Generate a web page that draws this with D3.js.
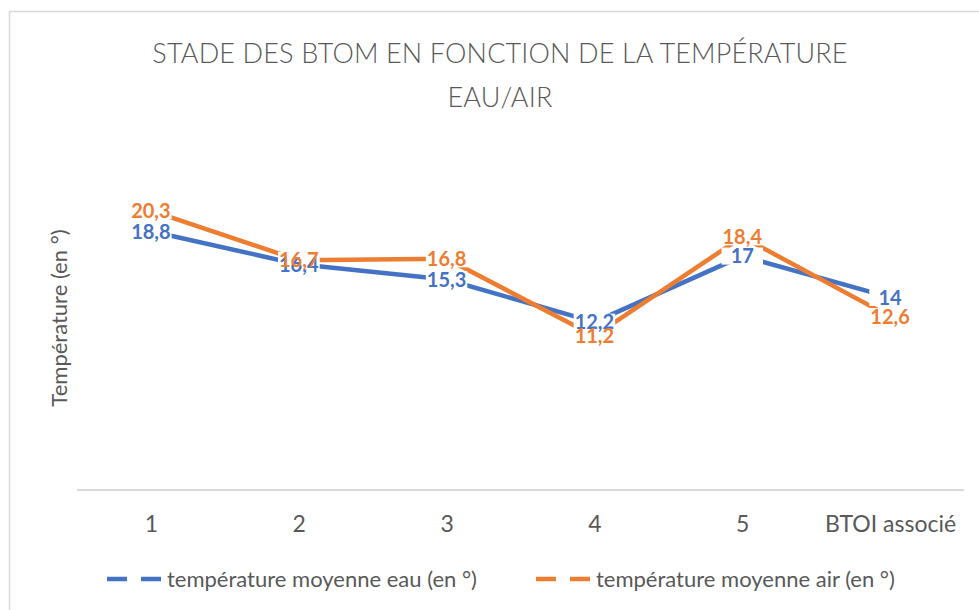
<!DOCTYPE html>
<html>
<head>
<meta charset="utf-8">
<script src="https://cdn.jsdelivr.net/npm/d3@7"></script>
<style>
  body { margin: 0; background: #fff; }
  svg { display: block; font-family: Lato, "Open Sans", sans-serif; }
</style>
</head>
<body>
<div id="app"></div>
<script>
"use strict";

// categories (x axis)
const categories = ["1", "2", "3", "4", "5", "BTOI associé"];
// series values
const eauValues = [18.8, 16.4, 15.3, 12.2, 17, 14];
const airValues = [20.3, 16.7, 16.8, 11.2, 18.4, 12.6];
const seriesNames = ["température moyenne eau (en °)", "température moyenne air (en °)"];
const seriesColors = ["#4472C4", "#ED7D31"];
const yDomain = [0, 25];

const titleLines = ["STADE DES BTOM EN FONCTION DE LA TEMPÉRATURE", "EAU/AIR"];
const yTitle = "Température (en °)";

const width = 979;
const height = 610;
const plot = { left: 77, right: 964, top: 146, bottom: 490 };
const legendX = [107, 536];

const fmt = v => String(v).replace(".", ",");

const svg = d3.select("#app")
  .append("svg")
  .attr("width", width)
  .attr("height", height);

// chart area border (runs off the page on right and bottom)
svg.append("rect")
  .attr("x", 9.5).attr("y", 11.5)
  .attr("width", 1000).attr("height", 700)
  .attr("fill", "#fff")
  .attr("stroke", "#d9d9d9")
  .attr("stroke-width", 1.5);

const x = d3.scalePoint()
  .domain(categories)
  .range([plot.left, plot.right])
  .padding(0.5);

const y = d3.scaleLinear()
  .domain(yDomain)
  .range([plot.bottom, plot.top]);

// title
titleLines.forEach((t, i) => {
  svg.append("text")
    .attr("x", 500)
    .attr("y", 63 + i * 44)
    .attr("text-anchor", "middle")
    .attr("fill", "#595959")
    .style("font-size", "27px")
    .style("font-weight", 300)
    .style("letter-spacing", "0.15px")
    .text(t);
});

// y axis title
svg.append("text")
  .attr("transform", "translate(67,318) rotate(-90)")
  .attr("text-anchor", "middle")
  .attr("fill", "#595959")
  .style("font-size", "22px")
  .text(yTitle);

// x axis
const xAxis = svg.append("g")
  .attr("transform", "translate(0," + plot.bottom + ")")
  .call(d3.axisBottom(x).tickSize(0).tickPadding(0));
xAxis.select(".domain")
  .attr("d", "M" + plot.left + ",0H" + plot.right)
  .attr("stroke", "#d9d9d9")
  .attr("stroke-width", 2);
xAxis.selectAll("text")
  .attr("y", 42)
  .attr("dy", null)
  .attr("fill", "#595959")
  .style("font-size", "23px")
  .style("font-family", "Lato, sans-serif");

// lines
const series = [eauValues, airValues];
const line = d3.line()
  .x((d, i) => x(categories[i]))
  .y(d => y(d));

series.forEach((vals, s) => {
  svg.append("path")
    .datum(vals)
    .attr("fill", "none")
    .attr("stroke", seriesColors[s])
    .attr("stroke-width", 4.5)
    .attr("stroke-linejoin", "round")
    .attr("d", line);
});

// data labels: white boxes first (cut the lines), then all texts on top
const boxLayer = svg.append("g");
const textLayer = svg.append("g");
series.forEach((vals, s) => {
  const texts = textLayer.append("g")
    .selectAll("text")
    .data(vals)
    .join("text")
    .attr("x", (d, i) => x(categories[i]))
    .attr("y", d => y(d))
    .attr("dy", "0.36em")
    .attr("text-anchor", "middle")
    .attr("fill", seriesColors[s])
    .style("font-size", "20px")
    .style("font-weight", 700)
    .text(d => fmt(d));
  // box width follows the widest label of the series
  let maxW = 0;
  texts.each(function () { maxW = Math.max(maxW, this.getComputedTextLength()); });
  const bw = maxW + 2;
  const bh = 17;
  boxLayer.append("g")
    .selectAll("rect")
    .data(vals)
    .join("rect")
    .attr("x", (d, i) => x(categories[i]) - bw / 2)
    .attr("y", d => y(d) - bh / 2)
    .attr("width", bw)
    .attr("height", bh)
    .attr("fill", "#fff");
});

// legend
seriesNames.forEach((name, s) => {
  const item = svg.append("g")
    .attr("transform", "translate(" + legendX[s] + ",579)");
  item.append("line")
    .attr("x1", 0).attr("x2", 55)
    .attr("y1", 0).attr("y2", 0)
    .attr("stroke", seriesColors[s])
    .attr("stroke-width", 4.5)
    .attr("stroke-dasharray", "20,14");
  item.append("text")
    .attr("x", 60)
    .attr("dy", "0.35em")
    .attr("fill", "#595959")
    .style("font-size", "22px")
    .text(name);
});
</script>
</body>
</html>
